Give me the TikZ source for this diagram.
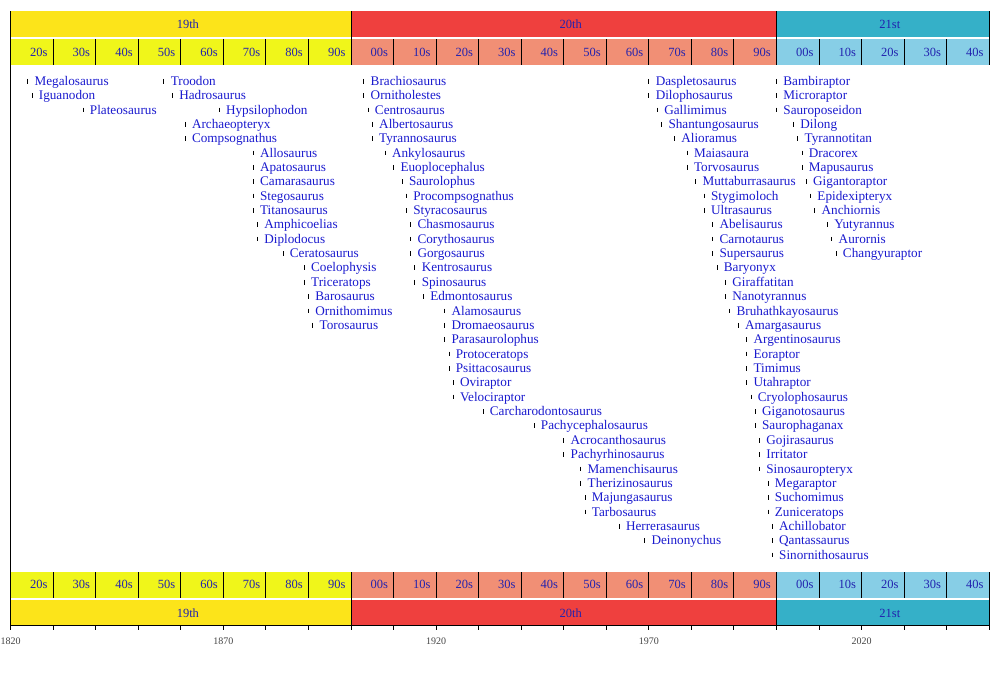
\documentclass[tikz,border=0pt]{standalone}
\usepackage{fontspec}
\setmainfont{Liberation Serif}
\definecolor{cA}{RGB}{252,228,26}
\definecolor{dA}{RGB}{240,246,26}
\definecolor{cB}{RGB}{239,64,62}
\definecolor{dB}{RGB}{241,143,117}
\definecolor{cC}{RGB}{53,176,200}
\definecolor{dC}{RGB}{135,206,230}
\definecolor{itemblue}{RGB}{26,26,206}
\definecolor{bandtext}{RGB}{34,34,175}
\definecolor{axistext}{RGB}{68,68,68}
\tikzset{
  sepline/.style={black, line width=1pt},
  tickmark/.style={black, line width=0.8pt},
  item/.style={anchor=base west, inner sep=0pt, text=itemblue, font=\fontsize{13.2}{15}\selectfont},
  declab/.style={anchor=base east, inner sep=0pt, text=bandtext, font=\fontsize{12.5}{14}\selectfont},
  centlab/.style={anchor=base, inner sep=0pt, text=bandtext, font=\fontsize{12.5}{14}\selectfont},
  yearlab/.style={anchor=base, inner sep=0pt, text=axistext, font=\fontsize{10}{12}\selectfont}
}
\begin{document}
\begin{tikzpicture}[x=1pt,y=-1pt]
\useasboundingbox (0,0) rectangle (1000,675);
% century bands
\foreach \s/\e/\c/\l [count=\i] in {1820/1900/cA/19th,1900/2000/cB/20th,2000/2050/cC/21st}{
  \pgfmathsetmacro\xs{10.7+(\s-1820)*4.2545}
  \pgfmathsetmacro\xe{10.7+(\e-1820)*4.2545}
  \pgfmathsetmacro\xm{(\xs+\xe)/2+7}
  \fill[\c] (\xs,11) rectangle (\xe,37);
  \fill[\c] (\xs,600) rectangle (\xe,625.5);
  \node[centlab] (ct\i) at (\xm,28) {\l};
  \node[centlab] (cb\i) at (\xm,617) {\l};
}
% decade bands
\foreach \d/\c/\l in {1820/dA/20s,1830/dA/30s,1840/dA/40s,1850/dA/50s,1860/dA/60s,1870/dA/70s,1880/dA/80s,1890/dA/90s,
  1900/dB/00s,1910/dB/10s,1920/dB/20s,1930/dB/30s,1940/dB/40s,1950/dB/50s,1960/dB/60s,1970/dB/70s,1980/dB/80s,1990/dB/90s,
  2000/dC/00s,2010/dC/10s,2020/dC/20s,2030/dC/30s,2040/dC/40s}{
  \pgfmathsetmacro\xs{10.7+(\d-1820)*4.2545}
  \pgfmathsetmacro\xe{\xs+42.545}
  \fill[\c] (\xs,39) rectangle (\xe,65);
  \fill[\c] (\xs,572) rectangle (\xe,598);
  \node[declab] (dt\d) at (\xe-5.5,56) {\l};
  \node[declab] (db\d) at (\xe-5.5,588.5) {\l};
}
% decade separators and axis ticks
\foreach \d in {1830,1840,...,2050}{
  \pgfmathsetmacro\xe{10.7+(\d-1820)*4.2545}
  \draw[sepline] (\xe,39) -- (\xe,65);
  \draw[sepline] (\xe,572) -- (\xe,598);
  \draw[sepline] (\xe,625.5) -- (\xe,630);
}
% century separators
\foreach \d in {1900,2000,2050}{
  \pgfmathsetmacro\xe{10.7+(\d-1820)*4.2545}
  \draw[sepline] (\xe,11) -- (\xe,65);
  \draw[sepline] (\xe,572) -- (\xe,625.5);
}
% left border and axis
\coordinate (lt) at (10.7,11);
\coordinate (lb) at (10.7,630);
\coordinate (al) at (10.7,625.5);
\coordinate (ar) at (990.3,625.5);
\draw[sepline] (lt) -- (lb);
\draw[sepline] (al) -- (ar);
% year labels
\foreach \y in {1820,1870,1920,1970,2020}{
  \pgfmathsetmacro\xe{10.7+(\y-1820)*4.2545}
  \node[yearlab] (y\y) at (\xe,644) {\y};
}
% items
\foreach \y/\r/\n in {
1824/0/Megalosaurus,1825/1/Iguanodon,1837/2/Plateosaurus,1856/0/Troodon,1858/1/Hadrosaurus,1869/2/Hypsilophodon,
1861/3/Archaeopteryx,1861/4/Compsognathus,1877/5/Allosaurus,1877/6/Apatosaurus,1877/7/Camarasaurus,1877/8/Stegosaurus,
1877/9/Titanosaurus,1878/10/Amphicoelias,1878/11/Diplodocus,1884/12/Ceratosaurus,1889/13/Coelophysis,1889/14/Triceratops,
1890/15/Barosaurus,1890/16/Ornithomimus,1891/17/Torosaurus,
1903/0/Brachiosaurus,1903/1/Ornitholestes,1904/2/Centrosaurus,1905/3/Albertosaurus,1905/4/Tyrannosaurus,1908/5/Ankylosaurus,
1910/6/Euoplocephalus,1912/7/Saurolophus,1913/8/Procompsognathus,1913/9/Styracosaurus,1914/10/Chasmosaurus,1914/11/Corythosaurus,
1914/12/Gorgosaurus,1915/13/Kentrosaurus,1915/14/Spinosaurus,1917/15/Edmontosaurus,1922/16/Alamosaurus,1922/17/Dromaeosaurus,
1922/18/Parasaurolophus,1923/19/Protoceratops,1923/20/Psittacosaurus,1924/21/Oviraptor,1924/22/Velociraptor,
1931/23/Carcharodontosaurus,1943/24/Pachycephalosaurus,1950/25/Acrocanthosaurus,1950/26/Pachyrhinosaurus,
1954/27/Mamenchisaurus,1954/28/Therizinosaurus,1955/29/Majungasaurus,1955/30/Tarbosaurus,1963/31/Herrerasaurus,1969/32/Deinonychus,
1970/0/Daspletosaurus,1970/1/Dilophosaurus,1972/2/Gallimimus,1973/3/Shantungosaurus,1976/4/Alioramus,1979/5/Maiasaura,
1979/6/Torvosaurus,1981/7/Muttaburrasaurus,1983/8/Stygimoloch,1983/9/Ultrasaurus,1985/10/Abelisaurus,1985/11/Carnotaurus,
1985/12/Supersaurus,1986/13/Baryonyx,1988/14/Giraffatitan,1988/15/Nanotyrannus,1989/16/Bruhathkayosaurus,1991/17/Amargasaurus,
1993/18/Argentinosaurus,1993/19/Eoraptor,1993/20/Timimus,1993/21/Utahraptor,1994/22/Cryolophosaurus,1995/23/Giganotosaurus,
1995/24/Saurophaganax,1996/25/Gojirasaurus,1996/26/Irritator,1996/27/Sinosauropteryx,1998/28/Megaraptor,1998/29/Suchomimus,
1998/30/Zuniceratops,1999/31/Achillobator,1999/32/Qantassaurus,1999/33/Sinornithosaurus,
2000/0/Bambiraptor,2000/1/Microraptor,2000/2/Sauroposeidon,2004/3/Dilong,2005/4/Tyrannotitan,2006/5/Dracorex,2006/6/Mapusaurus,
2007/7/Gigantoraptor,2008/8/Epidexipteryx,2009/9/Anchiornis,2012/10/Yutyrannus,2013/11/Aurornis,2014/12/Changyuraptor}{
  \pgfmathsetmacro\xx{10.7+(\y-1820)*4.2545}
  \pgfmathsetmacro\yy{85.3+14.36*\r}
  \coordinate (t\n) at (\xx,\yy-6.5);
  \coordinate (b\n) at (\xx,\yy-1.8);
  \draw[tickmark] (t\n) -- (b\n);
  \node[item] (n\n) at (\xx+6.7,\yy) {\n};
}
\end{tikzpicture}
\end{document}
